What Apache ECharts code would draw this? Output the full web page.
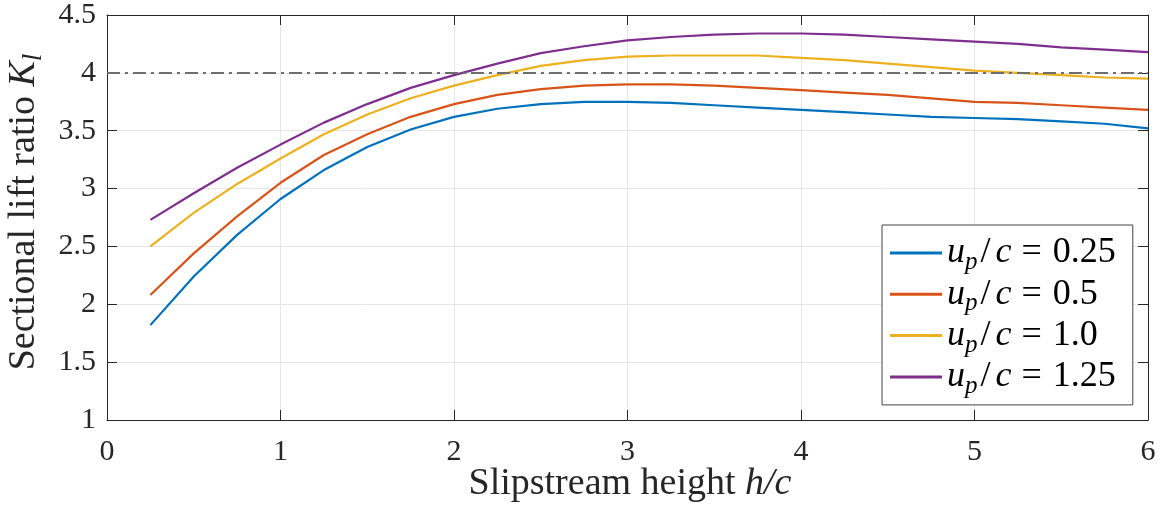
<!DOCTYPE html>
<html>
<head>
<meta charset="utf-8">
<script src="https://cdn.jsdelivr.net/npm/echarts@6/dist/echarts.min.js"></script>
<style>
  html, body { margin: 0; padding: 0; background: #fff; }
  #chart { width: 1165px; height: 506px; }
</style>
</head>
<body>
<div id="chart"></div>
<script>
// slipstream height h/c
const hc = [0.25, 0.5, 0.75, 1, 1.25, 1.5, 1.75, 2, 2.25, 2.5, 2.75, 3,
  3.25, 3.5, 3.75, 4, 4.25, 4.5, 4.75, 5, 5.25, 5.5, 5.75, 6];

// sectional lift ratio K_l for each u_p/c
const kl025 = [1.82, 2.24, 2.60, 2.91, 3.16, 3.36, 3.51, 3.62, 3.69, 3.73, 3.75, 3.75,
  3.74, 3.72, 3.70, 3.68, 3.66, 3.64, 3.62, 3.61, 3.60, 3.58, 3.56, 3.52];
const kl05 = [2.08, 2.44, 2.76, 3.05, 3.29, 3.47, 3.62, 3.73, 3.81, 3.86, 3.89, 3.90,
  3.90, 3.89, 3.87, 3.85, 3.83, 3.81, 3.78, 3.75, 3.74, 3.72, 3.70, 3.68];
const kl10 = [2.50, 2.79, 3.04, 3.26, 3.47, 3.64, 3.78, 3.89, 3.98, 4.06, 4.11, 4.14,
  4.15, 4.15, 4.15, 4.13, 4.11, 4.08, 4.05, 4.02, 4.00, 3.98, 3.96, 3.95];
const kl125 = [2.73, 2.96, 3.18, 3.38, 3.57, 3.73, 3.87, 3.98, 4.08, 4.17, 4.23, 4.28,
  4.31, 4.33, 4.34, 4.34, 4.33, 4.31, 4.29, 4.27, 4.25, 4.22, 4.20, 4.18];

const seriesNames = ['0.25', '0.5', '1.0', '1.25'];
const seriesData = [kl025, kl05, kl10, kl125];
const colors = ['#0072BD', '#D95319', '#EDB120', '#7E2F8E'];
const refLevel = 4;

const font = 'Liberation Serif';
const axisColor = '#262626';

const chart = echarts.init(document.getElementById('chart'));

const series = seriesData.map((vals, i) => ({
  name: seriesNames[i],
  type: 'line',
  data: vals.map((v, j) => [hc[j], v]),
  symbol: 'none',
  lineStyle: { width: 2.2, color: colors[i] },
  itemStyle: { color: colors[i] },
  z: 3
}));

// dash-dot reference line at K_l = 4
series.push({
  name: 'ref',
  type: 'line',
  data: [],
  markLine: {
    silent: true,
    symbol: 'none',
    label: { show: false },
    lineStyle: { color: '#6e6e6e', width: 2, type: [13, 5, 3, 5] },
    data: [{ yAxis: refLevel }]
  },
  z: 2
});

const tickText = { fontFamily: font, fontSize: 30, color: '#262626' };

chart.setOption({
  animation: false,
  color: colors,
  grid: { left: 107, right: 17, top: 15, bottom: 86 },
  legend: {
    data: seriesNames,
    orient: 'vertical',
    left: 882,
    top: 225,
    padding: [10, 17, 6, 8],
    itemGap: 1.3,
    itemWidth: 52,
    itemHeight: 3,
    icon: 'rect',
    backgroundColor: '#fff',
    borderColor: '#444',
    borderWidth: 1,
    formatter: name => '{i|u}{s|p}{sl|/}{i|c}{e|=}{n|' + name + '}',
    textStyle: {
      fontFamily: font,
      fontSize: 36,
      color: '#000',
      rich: {
        i: { fontFamily: font, fontStyle: 'italic', fontSize: 36, lineHeight: 44 },
        s: { fontFamily: font, fontStyle: 'italic', fontSize: 25, lineHeight: 25, verticalAlign: 'bottom' },
        sl: { fontFamily: font, fontSize: 36, lineHeight: 44, padding: [0, 5, 0, 3] },
        e: { fontFamily: font, fontSize: 36, lineHeight: 44, padding: [0, 11, 0, 10] },
        n: { fontFamily: font, fontSize: 36, lineHeight: 44 }
      }
    }
  },
  xAxis: [{
    type: 'value',
    min: 0, max: 6, interval: 1,
    axisLine: { lineStyle: { color: axisColor, width: 1 } },
    axisTick: { inside: true, length: 10, lineStyle: { color: axisColor } },
    axisLabel: Object.assign({ margin: 17 }, tickText),
    splitLine: { show: true, lineStyle: { color: '#e6e6e6', width: 1 } }
  }, {
    type: 'value', position: 'top',
    min: 0, max: 6, interval: 1,
    axisLine: { show: true, onZero: false, lineStyle: { color: axisColor, width: 1 } },
    axisTick: { inside: true, length: 10, lineStyle: { color: axisColor } },
    axisLabel: { show: false },
    splitLine: { show: false }
  }],
  yAxis: [{
    type: 'value',
    min: 1, max: 4.5, interval: 0.5,
    axisLine: { show: true, lineStyle: { color: axisColor, width: 1 } },
    axisTick: { show: true, inside: true, length: 10, lineStyle: { color: axisColor } },
    axisLabel: Object.assign({ margin: 11 }, tickText),
    splitLine: { show: true, lineStyle: { color: '#e6e6e6', width: 1 } }
  }, {
    type: 'value', position: 'right',
    min: 1, max: 4.5, interval: 0.5,
    axisLine: { show: true, onZero: false, lineStyle: { color: axisColor, width: 1 } },
    axisTick: { show: true, inside: true, length: 10, lineStyle: { color: axisColor } },
    axisLabel: { show: false },
    splitLine: { show: false }
  }],
  // axis titles
  graphic: [{
    type: 'text',
    x: 630, y: 484,
    style: {
      text: '{r|Slipstream height }{i|h/c}',
      align: 'center', verticalAlign: 'middle',
      fill: '#262626',
      font: '38px "Liberation Serif"',
      rich: {
        r: { fontFamily: font, fontSize: 38, fill: '#262626' },
        i: { fontFamily: font, fontSize: 38, fontStyle: 'italic', fill: '#262626' }
      }
    }
  }, {
    type: 'text',
    x: 24, y: 212,
    rotation: Math.PI / 2,
    style: {
      text: '{r|Sectional lift ratio }{i|K}{s|l}',
      align: 'center', verticalAlign: 'middle',
      fill: '#262626',
      font: '38px "Liberation Serif"',
      rich: {
        r: { fontFamily: font, fontSize: 38, lineHeight: 46, fill: '#262626' },
        i: { fontFamily: font, fontSize: 38, lineHeight: 46, fontStyle: 'italic', fill: '#262626' },
        s: { fontFamily: font, fontSize: 27, lineHeight: 27, fontStyle: 'italic', fill: '#262626', verticalAlign: 'bottom' }
      }
    }
  }],
  series: series
});
</script>
</body>
</html>
